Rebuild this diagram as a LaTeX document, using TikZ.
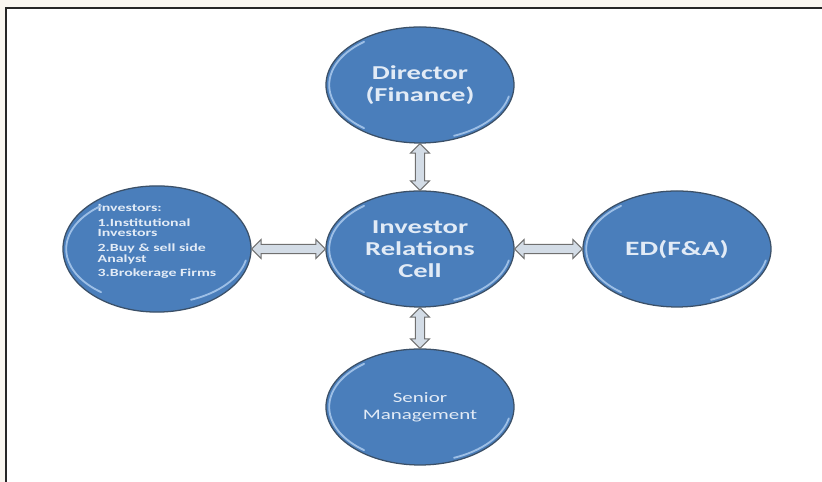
\documentclass[tikz,border=0pt]{standalone}
\usepackage{fontspec}
\setmainfont{Carlito}[FakeStretch=1.45]
\usepackage{tikz}
\usetikzlibrary{shapes.geometric,shapes.arrows,calc}
\definecolor{cellblue}{HTML}{4A7EBB}
\definecolor{celledge}{HTML}{3B5068}
\definecolor{celltext}{HTML}{E2EBF6}
\definecolor{rimblue}{HTML}{9DBFE6}
\definecolor{linkfill}{HTML}{D3DCE6}
\definecolor{linkedge}{HTML}{707070}
\definecolor{pagecream}{HTML}{F9F6F0}
\tikzset{
    cell/.style={ellipse,draw=celledge,fill=cellblue,line width=0.9pt,text=celltext,
        minimum width=4.7cm,minimum height=2.9cm,align=center},
    bigtext/.style={font=\bfseries\fontsize{14}{15.6}\selectfont},
    rim/.style={rimblue,line width=1.3pt,line cap=round},
    dblarrow/.style={double arrow,draw=linkedge,fill=linkfill,line width=0.7pt,
        inner sep=2.9pt,minimum width=12.8pt,double arrow head extend=3.5pt},
    link/.style={to path={let \p1=($(\tikztotarget)-(\tikztostart)$),\n1={veclen(\x1,\y1)} in
        (\tikztostart) -- (\tikztotarget) node[midway,sloped,dblarrow,minimum height=\n1] {}}}
}
\begin{document}
\begin{tikzpicture}
                \useasboundingbox (0,0) rectangle (20.55,12.05);
                \fill[pagecream] (0,0) rectangle (20.55,12.05);
                \fill[white] (0.15,0) rectangle (20.55,11.85);
                \draw[black!85,line width=1.1pt] (0.15,0) -- (0.15,11.85) -- (20.55,11.85);

                \node[cell,bigtext] (dir) at (10.5,9.925) {Director\\(Finance)};
                \node[cell,bigtext] (irc) at (10.5,5.825) {Investor\\Relations\\Cell};
                \node[cell,bigtext,font=\bfseries\fontsize{14.5}{16}\selectfont] (eda) at (16.925,5.825) {ED(F\&A)};
                \node[cell,font=\fontsize{10.3}{12}\selectfont] (snr) at (10.5,1.875) {Senior\\Management};
                \node[cell,align=left,inner sep=0pt,text depth=12pt,font=\bfseries\fontsize{7.8}{7.6}\selectfont] (inv) at (3.925,5.825)
                    {Investors:\\[2.8pt]1.Institutional\\Investors\\[2.8pt]2.Buy \& sell side\\Analyst\\[2.8pt]3.Brokerage Firms};

                \foreach \n in {dir,irc,eda,snr,inv} {
                    \draw[rim] (\n.center) ++(128:2.27cm and 1.37cm) arc[start angle=128,end angle=232,x radius=2.27cm,y radius=1.37cm];
                    \draw[rim] (\n.center) ++(292:2.27cm and 1.37cm) arc[start angle=292,end angle=348,x radius=2.27cm,y radius=1.37cm];
                }

                \path (dir.south) to[link] (irc.north);
                \path (irc.south) to[link] (snr.north);
                \path (inv.east) to[link] (irc.west);
                \path (irc.east) to[link] (eda.west);
\end{tikzpicture}
\end{document}
